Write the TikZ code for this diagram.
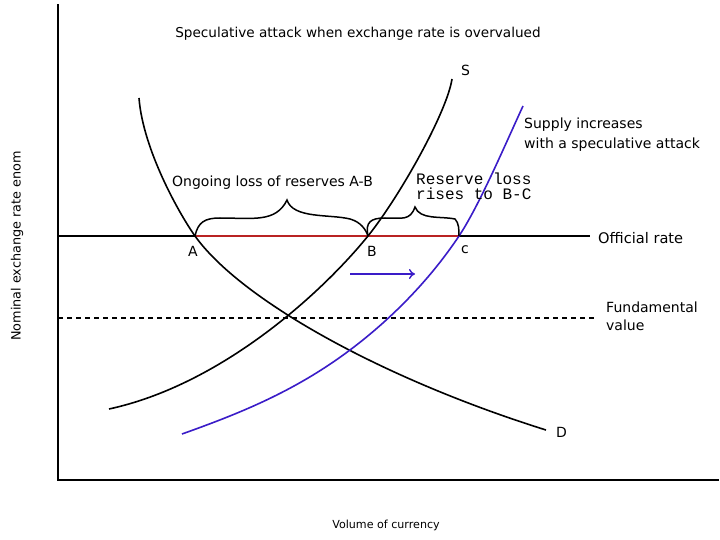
\documentclass[tikz,border=0pt]{standalone}
\usepackage{fontspec}
\setmainfont{DejaVu Sans}
\newfontfamily\monofont{Liberation Mono}
\usetikzlibrary{arrows.meta}
\definecolor{supblue}{RGB}{58,28,200}
\definecolor{lossred}{RGB}{185,35,35}
\tikzset{
  axis/.style={line width=2pt, line cap=rect},
  curve/.style={line width=1.6pt},
  lbl/.style={inner sep=0pt, font=\fontsize{14}{16}\selectfont},
}
\begin{document}
\begin{tikzpicture}[x=1pt,y=-1pt]
\useasboundingbox (0,0) rectangle (720,540);
\fill[white] (0,0) rectangle (720,540);
% axes
\coordinate (O) at (58,480);
\coordinate (Ytop) at (58,5);
\coordinate (Xend) at (718,480);
\draw[axis] (Ytop) -- (O) -- (Xend);
% key points
\coordinate (A) at (195,236);
\coordinate (B) at (368,236);
\coordinate (C) at (459,236);
\coordinate (E) at (290,317);
\coordinate (offL) at (58,236);
\coordinate (offR) at (590,236);
\coordinate (fundL) at (58,318);
\coordinate (fundR) at (596,318);
% official rate
\draw[curve] (offL) -- (offR);
\draw[line width=1.6pt, lossred] (A) -- (C);
% fundamental value
\draw[line width=1.3pt, dash pattern=on 5pt off 4pt] (fundL) -- (fundR);
% demand
\coordinate (Dtop) at (139,98);
\coordinate (Dend) at (546,430);
\draw[curve] (Dtop) .. controls (143,150) and (180,215) .. (A) .. controls (240,299) and (380,378) .. (Dend);
% supply
\coordinate (Sbot) at (109,409);
\coordinate (Stop) at (452,79);
\draw[curve] (Sbot) .. controls (220,385) and (320,295) .. (B) .. controls (400,196) and (447,112) .. (Stop);
% supply with attack
\coordinate (Tbot) at (182,434);
\coordinate (Tmid) at (350,350);
\coordinate (Ttop) at (523,106);
\draw[curve, supblue] (Tbot) .. controls (238,414) and (294,392) .. (Tmid) .. controls (390,320) and (429,281) .. (C) .. controls (479,206) and (505,145) .. (Ttop);
% braces
\draw[line width=1.5pt] (A) .. controls (198,222) and (205,218) .. (220,218) .. controls (252,218) and (276,223) .. (287,200) .. controls (293,219) and (330,214) .. (350,219) .. controls (361,222) and (366,230) .. (B);
\draw[line width=1.5pt] (B) .. controls (365,222) and (371,218) .. (385,218) .. controls (402,218) and (410,221) .. (415,207) .. controls (420,220) and (440,216) .. (455,219) .. controls (459,223) and (459,230) .. (C);
% shift arrow
\coordinate (arrL) at (350,274);
\coordinate (arrR) at (415,274);
\draw[line width=1.4pt, supblue, -{To[length=6pt,width=10pt]}] (arrL) -- (arrR);
% texts
\node[inner sep=0pt, anchor=center, font=\fontsize{13.6}{15}\selectfont] (title) at (358,34) {Speculative attack when exchange rate is overvalued};
\node[lbl, anchor=west] (Slbl) at (461,70) {S};
\node[lbl, anchor=west] (Dlbl) at (556,432) {D};
\node[lbl, anchor=center] (Albl) at (193,251) {A};
\node[lbl, anchor=center] (Blbl) at (372,251) {B};
\node[lbl, anchor=center] (Clbl) at (465,250) {c};
\node[lbl, anchor=west] (loss) at (172,183) {Ongoing loss of reserves A-B};
\node[inner sep=0pt, anchor=north west, align=left, font=\monofont\fontsize{16}{15}\selectfont] (rise) at (416,173) {Reserve loss\\rises to B-C};
\node[lbl, anchor=north west, align=left, font=\fontsize{14}{20}\selectfont] (supinc) at (524,118) {Supply increases\\with a speculative attack};
\node[lbl, anchor=west, font=\fontsize{14.6}{16}\selectfont] (offlbl) at (598,238) {Official rate};
\node[lbl, anchor=north west, align=left, font=\fontsize{14}{18}\selectfont] (fundlbl) at (606,302) {Fundamental\\value};
\node[inner sep=0pt, anchor=center, font=\fontsize{11.1}{12}\selectfont] (xlbl) at (386,525) {Volume of currency};
\node[inner sep=0pt, anchor=center, rotate=90, font=\fontsize{12.8}{14}\selectfont] (ylbl) at (17,246) {Nominal exchange rate enom};
\end{tikzpicture}
\end{document}
